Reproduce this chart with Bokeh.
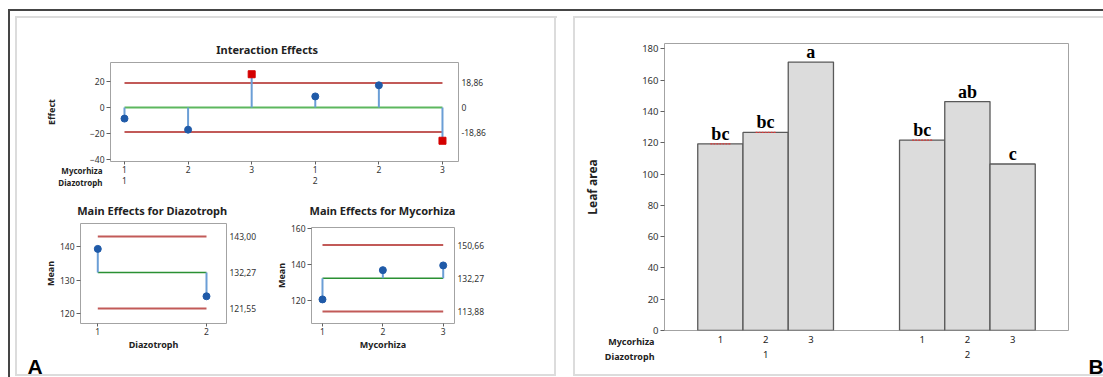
import numpy as np
from bokeh.plotting import figure
from bokeh.layouts import row, column
from bokeh.models import (Range1d, FactorRange, LinearAxis, CategoricalAxis, FixedTicker,
                          SingleIntervalTicker, Label, ColumnDataSource, CustomJSTickFormatter)
from bokeh.embed import file_html
from bokeh.resources import INLINE
from bokeh.core.properties import value

# ---------------- data ----------------
mycorhiza = ["1", "2", "3", "1", "2", "3"]
diazotroph = ["1", "1", "1", "2", "2", "2"]
leaf_area = [119.3, 126.6, 171.5, 121.7, 146.3, 106.4]
letters = ["bc", "bc", "a", "bc", "ab", "c"]

interaction_effect = [-8.5, -17.0, 25.5, 8.5, 17.0, -25.5]
interaction_limit = 18.86

diaz_levels = [1, 2]
diaz_mean = [139.3, 125.2]
diaz_limits = [121.55, 143.00]

myc_levels = [1, 2, 3]
myc_mean = [120.6, 136.8, 139.4]
myc_limits = [113.88, 150.66]

grand_mean = 132.27

# ---------------- styles ----------------
FONT = "Noto Sans"
TICK = "#333333"
RED = "#c25a58"
RED_SQ = "#d40000"
GREEN_I = "#5db75f"
GREEN_M = "#2a9033"
STEM = "#6b9ed6"
BLUE = "#1f5aa8"
FRAME = "#a3a3a3"


class Frame:
    """maps canvas pixel positions of a figure to its data units (for text placement)"""
    def __init__(self, x0, y0, x1, y1, xr, yr):
        self.x0, self.y0, self.x1, self.y1 = x0, y0, x1, y1
        self.xr, self.yr = xr, yr

    def x(self, px):
        return self.xr[0] + (px - self.x0) / (self.x1 - self.x0) * (self.xr[1] - self.xr[0])

    def y(self, py):
        return self.yr[1] - (py - self.y0) / (self.y1 - self.y0) * (self.yr[1] - self.yr[0])


def make_fig(width, height, xr, yr, ml, mr, mt, mb):
    p = figure(width=width, height=height, x_range=xr, y_range=yr,
               x_axis_location=None, y_axis_location=None,
               min_border_left=ml, min_border_right=mr, min_border_top=mt, min_border_bottom=mb,
               output_backend="svg", toolbar_location=None)
    p.border_fill_color = None
    p.background_fill_color = "white"
    p.outline_line_color = FRAME
    p.outline_line_width = 1
    p.grid.visible = False
    return p


def style_axis(ax, size="8.5px", tick_out=3, standoff=2, ticks=True):
    ax.axis_line_color = None
    ax.major_tick_in = 0
    ax.major_tick_out = tick_out
    ax.major_tick_line_color = "#606060" if ticks else None
    ax.minor_tick_line_color = None
    ax.major_label_text_font = FONT
    ax.major_label_text_font_size = size
    ax.major_label_text_color = TICK
    ax.major_label_standoff = standoff
    ax.axis_label_text_font = FONT
    ax.axis_label_text_font_size = "9px"
    ax.axis_label_text_font_style = "bold"
    ax.axis_label_text_color = "#222222"


def add_text(p, fr, side, px, py, text, size, bold=False, align="center",
             font=FONT, color="#222222"):
    # texts outside the plot frame live in a side panel so that they are not clipped;
    # (px, py) is the wanted centre-line position on the figure's canvas
    p.add_layout(Label(x=fr.x(px), y=fr.y(py), text=text, text_font=font, text_font_size=size,
                       text_font_style="bold" if bold else "normal", text_align=align,
                       text_baseline="middle", text_color=color), side)


comma_fmt = CustomJSTickFormatter(
    code="return Math.abs(tick) < 1e-9 ? '0' : tick.toFixed(2).replace('.', ',');")


def list_fmt(labels):
    return CustomJSTickFormatter(
        args=dict(labels=labels),
        code="const i = Math.round(tick); return (i >= 0 && i < labels.length) ? labels[i] : '';")


# ---------------- Interaction effects ----------------
idx = np.arange(len(interaction_effect))
eff = np.array(interaction_effect)
IXr, IYr = (-0.220, 5.252), (-41.4, 34.5)
pI = make_fig(560, 192, Range1d(*IXr), Range1d(*IYr), 110, 102, 62, 31)
frI = Frame(110, 62, 458, 161, IXr, IYr)

ay = LinearAxis(ticker=FixedTicker(ticks=[-40, -20, 0, 20]), axis_label="Effect")
style_axis(ay, tick_out=4, standoff=2)
ay.axis_label_standoff = 29
pI.add_layout(ay, "left")

ar = LinearAxis(ticker=FixedTicker(ticks=[-interaction_limit, 0, interaction_limit]),
                formatter=comma_fmt)
style_axis(ar, tick_out=0, standoff=3, ticks=False)
pI.add_layout(ar, "right")

xb1 = LinearAxis(ticker=FixedTicker(ticks=[float(i) for i in idx]), formatter=list_fmt(mycorhiza))
style_axis(xb1, tick_out=3, standoff=1)
pI.add_layout(xb1, "below")

group_start = [float(i) for i in idx if i == 0 or diazotroph[i] != diazotroph[i - 1]]
xb2 = LinearAxis(ticker=FixedTicker(ticks=group_start), formatter=list_fmt(diazotroph))
style_axis(xb2, tick_out=0, standoff=1, ticks=False)
pI.add_layout(xb2, "below")

pI.segment(x0=[idx[0]] * 2, x1=[idx[-1]] * 2, y0=[interaction_limit, -interaction_limit],
           y1=[interaction_limit, -interaction_limit], line_color=RED, line_width=2)
pI.segment(x0=[idx[0]], x1=[idx[-1]], y0=[0], y1=[0], line_color=GREEN_I, line_width=2)
pI.segment(x0=idx, x1=idx, y0=np.zeros(len(idx)), y1=eff, line_color=STEM, line_width=2)
sig = np.abs(eff) > interaction_limit
pI.scatter(idx[~sig], eff[~sig], marker="circle", size=7, color=BLUE)
pI.scatter(idx[sig], eff[sig], marker="square", size=7, color=RED_SQ)

add_text(pI, frI, "above", 266.7, 48.5, "Interaction Effects", "11px", bold=True)
add_text(pI, frI, "above", 102, 170, "Mycorhiza", "8px", bold=True, align="right")
add_text(pI, frI, "above", 102, 182, "Diazotroph", "8px", bold=True, align="right")


# ---------------- Main effects helper ----------------
def main_effects(width, xr, yr, frame, borders, levels, means, limits, yticks, ylab_standoff,
                 xlabel, title, title_x):
    p = make_fig(width, 185, Range1d(*xr), Range1d(*yr), *borders)
    fr = Frame(*frame, xr, yr)
    a = LinearAxis(ticker=FixedTicker(ticks=yticks), axis_label="Mean")
    style_axis(a, tick_out=4, standoff=2)
    a.axis_label_standoff = ylab_standoff
    p.add_layout(a, "left")
    r = LinearAxis(ticker=FixedTicker(ticks=sorted(limits + [grand_mean])), formatter=comma_fmt)
    style_axis(r, tick_out=0, standoff=3, ticks=False)
    p.add_layout(r, "right")
    b = LinearAxis(ticker=FixedTicker(ticks=levels), axis_label=xlabel)
    style_axis(b, tick_out=3, standoff=1)
    b.axis_label_standoff = 0
    p.add_layout(b, "below")

    p.segment(x0=[levels[0]] * 2, x1=[levels[-1]] * 2, y0=limits, y1=limits,
              line_color=RED, line_width=2)
    p.segment(x0=[levels[0]], x1=[levels[-1]], y0=[grand_mean], y1=[grand_mean],
              line_color=GREEN_M, line_width=1.6)
    p.segment(x0=levels, x1=levels, y0=[grand_mean] * len(levels), y1=means,
              line_color=STEM, line_width=2)
    p.scatter(levels, means, marker="circle", size=7, color=BLUE)
    add_text(p, fr, "above", title_x, 18, title, "11px", bold=True)
    return p, fr


pD, frD = main_effects(270, (0.841, 2.184), (117.1, 146.85), (80, 31, 226, 131), (80, 44, 31, 54),
                       diaz_levels, diaz_mean, diaz_limits, [120, 130, 140], 0,
                       "Diazotroph", "Main Effects for Diazotroph", 151.7)
add_text(pD, frD, "left", 27, 173.5, "A", "21px", bold=True, align="left", font="Liberation Sans",
         color="#000000")

pM, frM = main_effects(290, (0.818, 3.187), (107.27, 160.39), (41, 35, 184, 131), (41, 106, 35, 54),
                       myc_levels, myc_mean, myc_limits, [120, 140, 160], 0,
                       "Mycorhiza", "Main Effects for Mycorhiza", 112)

# ---------------- Bar chart (B) ----------------
factors = list(zip(diazotroph, mycorhiza))
pad = 0.735
gpad = 1.46
BX = FactorRange(*factors, factor_padding=0, group_padding=gpad, range_padding=pad,
                 range_padding_units="absolute")
BYr = (0, 183.4)
pB = make_fig(543, 377, BX, Range1d(*BYr), 104, 35, 43, 47)
frB = Frame(104, 43, 508, 330, (-pad, len(factors) + gpad + pad), BYr)

by = LinearAxis(ticker=SingleIntervalTicker(interval=20, num_minor_ticks=0), axis_label="Leaf area")
style_axis(by, size="9.5px", tick_out=4, standoff=2)
by.axis_label_text_font_size = "12px"
by.axis_label_standoff = 38
pB.add_layout(by, "left")

bx = CategoricalAxis()
style_axis(bx, size="9.5px", tick_out=0, standoff=5, ticks=False)
bx.major_label_text_color = "#222222"
bx.group_text_font = FONT
bx.group_text_font_size = "9.5px"
bx.group_text_font_style = "normal"
bx.group_text_color = "#222222"
bx.separator_line_color = None
pB.add_layout(bx, "below")

src = ColumnDataSource(dict(x=factors, top=leaf_area, letters=letters))
pB.vbar(x="x", top="top", width=1, source=src, fill_color="#dcdcdc",
        line_color="#595959", line_width=1.3)
pB.text(x="x", y="top", text="letters", source=src, text_font=value("Liberation Serif"),
        text_font_style="bold", text_font_size="18px", text_align="center",
        text_baseline="middle", y_offset=-10, text_color="#000000")
bc = [i for i, l in enumerate(letters) if l == "bc"]
pB.scatter(x=[factors[i] for i in bc], y=[leaf_area[i] for i in bc], marker="dash", size=20,
           line_color="#e03a3a", line_width=1.3, line_dash="2 1")

add_text(pB, frB, "above", 94, 341, "Mycorhiza", "9px", bold=True, align="right")
add_text(pB, frB, "above", 94, 356, "Diazotroph", "9px", bold=True, align="right")
add_text(pB, frB, "right", 528, 366, "B", "21px", bold=True, align="left", font="Liberation Sans",
         color="#000000")

# ---------------- panel frames (page background) ----------------
DARK = "#454545"
LIGHT = "#dcdcdc"
frame_lines = [
    (DARK, 8, 9, 1095, 2), (DARK, 8, 9, 2, 368),
    (LIGHT, 15, 16, 542, 2), (LIGHT, 15, 16, 2, 360), (LIGHT, 554, 16, 2, 360), (LIGHT, 15, 374, 541, 2),
    (LIGHT, 573, 16, 530, 2), (LIGHT, 573, 16, 2, 360), (LIGHT, 573, 374, 530, 2),
]
styles = {
    "background-color": "white",
    "background-image": ", ".join(f"linear-gradient({c}, {c})" for c, *_ in frame_lines),
    "background-position": ", ".join(f"{x}px {y}px" for _, x, y, _w, _h in frame_lines),
    "background-size": ", ".join(f"{w}px {h}px" for *_, w, h in frame_lines),
    "background-repeat": "no-repeat",
}

# each main-effects plot sits in its own column so that their frames are laid out independently
left = column(pI, row(column(pD, spacing=0), column(pM, spacing=0), spacing=0), spacing=0)
root = row(left, pB, spacing=0, styles=styles)

open("out.html", "w").write(file_html(root, INLINE))
